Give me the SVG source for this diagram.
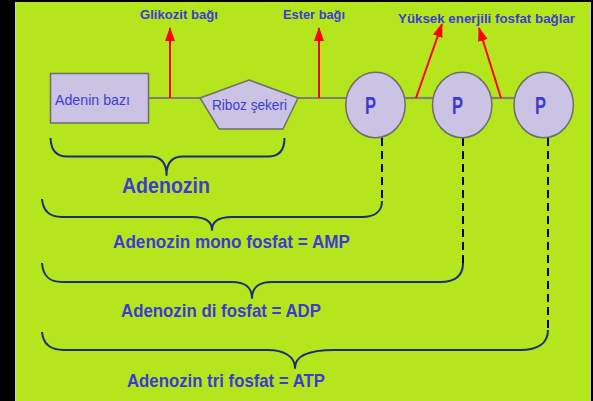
<svg xmlns="http://www.w3.org/2000/svg" width="593" height="401" viewBox="0 0 593 401">
  <style>
    .lbl { font-family: "Liberation Sans", Arial, sans-serif; font-weight: bold; fill: #3c3cd2; }
    .thin { font-weight: normal; }
    .node { fill: #cbc3e3; stroke: #6e6e6e; stroke-width: 1.5; }
    .bond { stroke: #7f7f7f; stroke-width: 2.2; fill: none; }
    .red { stroke: #ff0000; stroke-width: 2; fill: none; }
    .brace { stroke: #1c2d78; stroke-width: 2; fill: none; stroke-linejoin: round; }
    .dash { stroke: #000; stroke-width: 2; stroke-dasharray: 8 5; fill: none; }
  </style>
  <defs>
    <marker id="arr" viewBox="0 0 14 10" refX="13" refY="5" markerWidth="14" markerHeight="10" markerUnits="userSpaceOnUse" orient="auto">
      <path d="M0,0 L14,5 L0,10 z" fill="#ff0000"/>
    </marker>
  </defs>

  <!-- frame and background -->
  <rect x="0" y="0" width="593" height="401" fill="#000"/>
  <rect x="15" y="2" width="575.5" height="399" fill="#b5e61d"/>
  <line x1="15.5" y1="2" x2="15.5" y2="401" stroke="#c8c8e8" stroke-width="1"/>
  <line x1="590.5" y1="2" x2="590.5" y2="401" stroke="#c8c8e8" stroke-width="1"/>

  <!-- connectors -->
  <g id="connectors">
    <!-- backbone -->
    <line class="bond" x1="148" y1="98" x2="201" y2="98"/>
    <line class="bond" x1="297" y1="98" x2="347" y2="98"/>
    <line class="bond" x1="404" y1="98" x2="434" y2="98"/>
    <line class="bond" x1="491" y1="98" x2="515" y2="98"/>
    <!-- bond pointers -->
    <line class="red" x1="170" y1="98" x2="170" y2="28" marker-end="url(#arr)"/>
    <line class="red" x1="319" y1="98" x2="319" y2="28" marker-end="url(#arr)"/>
    <line class="red" x1="416" y1="98" x2="442" y2="24" marker-end="url(#arr)"/>
    <line class="red" x1="501" y1="98" x2="479" y2="28" marker-end="url(#arr)"/>
    <!-- phosphate guides -->
    <line class="dash" x1="382" y1="138" x2="382" y2="203"/>
    <line class="dash" x1="463" y1="138" x2="463" y2="265"/>
    <line class="dash" x1="548" y1="138" x2="548" y2="331"/>
    <!-- braces -->
    <path class="brace" d="M50.5,138 C51,150 56,156.5 67,156.5 L150,156.5 C160,156.5 166.5,162 166.5,175 C166.5,162 173,156.5 183,156.5 L268,156.5 C279,156.5 284.5,150 284.5,138"/>
    <path class="brace" d="M42,199 C43,211 49,217 62,217 L192,217 C204,217 212,221 212,230 C212,221 220,217 232,217 L362,217 C375,217 382,211 382,201"/>
    <path class="brace" d="M42,263 C43,276 49,282 62,282 L232,282 C244,282 252,287 252,298 C252,287 260,282 272,282 L440,282 C455,282 463,276 463,263"/>
    <path class="brace" d="M42,332 C43,344 50,350 64,350 L268,350 C283,350 295,356 295,368 C295,356 308,350 334,350 L520,350 C538,350 548,343 548,330"/>
  </g>

  <!-- nodes -->
  <g id="adenine">
    <rect class="node" x="50.5" y="73.5" width="98" height="49.5"/>
    <text class="lbl thin" x="55" y="105" font-size="14.5" textLength="75" lengthAdjust="spacingAndGlyphs">Adenin bazı</text>
  </g>
  <g id="ribose">
    <polygon class="node" points="249,80 298,98 283,129 219,129 200,98"/>
    <text class="lbl thin" x="212" y="110" font-size="14.5" textLength="75" lengthAdjust="spacingAndGlyphs">Riboz şekeri</text>
  </g>
  <g id="phosphate1">
    <ellipse class="node" cx="375.5" cy="105" rx="29.7" ry="32.7"/>
    <text class="lbl" x="365" y="113.5" font-size="23" textLength="11" lengthAdjust="spacingAndGlyphs">P</text>
  </g>
  <g id="phosphate2">
    <ellipse class="node" cx="462.2" cy="105" rx="29.7" ry="32.7"/>
    <text class="lbl" x="452" y="113.5" font-size="23" textLength="11" lengthAdjust="spacingAndGlyphs">P</text>
  </g>
  <g id="phosphate3">
    <ellipse class="node" cx="543.7" cy="105" rx="29.7" ry="32.7"/>
    <text class="lbl" x="535" y="113.5" font-size="23" textLength="11" lengthAdjust="spacingAndGlyphs">P</text>
  </g>

  <!-- bond labels -->
  <g id="glycosidic-label">
    <text class="lbl" x="140" y="19" font-size="13.5" textLength="78" lengthAdjust="spacingAndGlyphs">Glikozit bağı</text>
  </g>
  <g id="ester-label">
    <text class="lbl" x="283" y="19" font-size="13.5" textLength="62" lengthAdjust="spacingAndGlyphs">Ester bağı</text>
  </g>
  <g id="high-energy-label">
    <text class="lbl" x="398" y="23" font-size="13.5" textLength="177" lengthAdjust="spacingAndGlyphs">Yüksek enerjili fosfat bağlar</text>
  </g>

  <!-- brace labels -->
  <g id="adenosine-label">
    <text class="lbl" x="122" y="193" font-size="22" textLength="88" lengthAdjust="spacingAndGlyphs">Adenozin</text>
  </g>
  <g id="amp-label">
    <text class="lbl" x="113" y="248" font-size="18.5" textLength="237" lengthAdjust="spacingAndGlyphs">Adenozin mono fosfat = AMP</text>
  </g>
  <g id="adp-label">
    <text class="lbl" x="121" y="317" font-size="18.5" textLength="200" lengthAdjust="spacingAndGlyphs">Adenozin di fosfat = ADP</text>
  </g>
  <g id="atp-label">
    <text class="lbl" x="127" y="387" font-size="18.5" textLength="198" lengthAdjust="spacingAndGlyphs">Adenozin tri fosfat = ATP</text>
  </g>
</svg>
